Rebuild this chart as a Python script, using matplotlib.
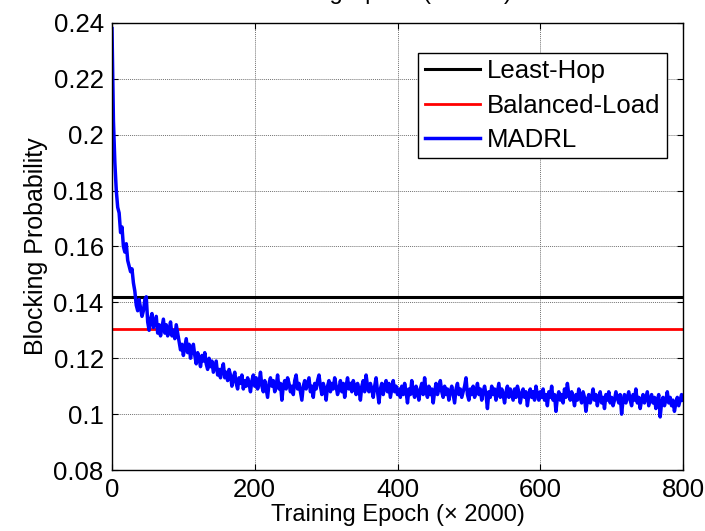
import numpy as np
import matplotlib
matplotlib.use("Agg")
import matplotlib.pyplot as plt

plt.rcParams['font.family'] = ['Liberation Sans', 'DejaVu Sans']

# training epochs (x 2000), one reading every 2 epochs
epoch = np.arange(0, 801, 2)

least_hop = 0.142
balanced_load = 0.1305

madrl = [
    # 0 - 200
    0.238, 0.205, 0.190, 0.180, 0.174, 0.172, 0.165, 0.167, 0.160, 0.158,
    0.161, 0.155, 0.153, 0.151, 0.152, 0.147, 0.144, 0.139, 0.137, 0.141,
    0.138, 0.135, 0.137, 0.141, 0.142, 0.133, 0.130, 0.134, 0.136, 0.131,
    0.133, 0.135, 0.129, 0.132, 0.128, 0.131, 0.134, 0.129, 0.132, 0.128,
    0.130, 0.133, 0.128, 0.130, 0.127, 0.132, 0.129, 0.126, 0.123, 0.125,
    0.121, 0.124, 0.127, 0.122, 0.125, 0.120, 0.123, 0.125, 0.121, 0.118,
    0.122, 0.120, 0.117, 0.121, 0.119, 0.122, 0.118, 0.116, 0.120, 0.117,
    0.119, 0.115, 0.117, 0.119, 0.114, 0.116, 0.113, 0.116, 0.118, 0.113,
    0.115, 0.112, 0.116, 0.114, 0.110, 0.113, 0.115, 0.111, 0.109, 0.113,
    0.111, 0.114, 0.109, 0.112, 0.110, 0.113, 0.111, 0.108, 0.112, 0.114,
    0.110,
    # 202 - 400
    0.113, 0.109, 0.111, 0.115, 0.110, 0.108, 0.112, 0.109, 0.106, 0.111,
    0.113, 0.110, 0.112, 0.108, 0.110, 0.114, 0.109, 0.111, 0.105, 0.110,
    0.112, 0.109, 0.113, 0.111, 0.108, 0.110, 0.107, 0.112, 0.114, 0.109,
    0.111, 0.108, 0.105, 0.110, 0.112, 0.109, 0.111, 0.113, 0.108, 0.110,
    0.106, 0.111, 0.109, 0.112, 0.114, 0.110, 0.107, 0.111, 0.109, 0.105,
    0.110, 0.112, 0.108, 0.111, 0.109, 0.113, 0.110, 0.107, 0.109, 0.112,
    0.108, 0.111, 0.106, 0.110, 0.113, 0.109, 0.111, 0.108, 0.112, 0.110,
    0.107, 0.111, 0.109, 0.105, 0.110, 0.112, 0.108, 0.114, 0.110, 0.108,
    0.111, 0.109, 0.106, 0.110, 0.113, 0.108, 0.104, 0.109, 0.111, 0.107,
    0.110, 0.112, 0.108, 0.111, 0.106, 0.109, 0.112, 0.108, 0.110, 0.107,
    # 402 - 600
    0.109, 0.106, 0.110, 0.107, 0.111, 0.108, 0.104, 0.109, 0.107, 0.112,
    0.108, 0.106, 0.110, 0.108, 0.105, 0.109, 0.111, 0.107, 0.113, 0.108,
    0.106, 0.110, 0.107, 0.109, 0.104, 0.108, 0.111, 0.107, 0.109, 0.112,
    0.108, 0.106, 0.110, 0.107, 0.109, 0.105, 0.108, 0.110, 0.107, 0.104,
    0.109, 0.111, 0.107, 0.109, 0.106, 0.108, 0.110, 0.113, 0.107, 0.105,
    0.109, 0.107, 0.110, 0.106, 0.108, 0.111, 0.107, 0.109, 0.105, 0.108,
    0.110, 0.107, 0.102, 0.108, 0.106, 0.110, 0.107, 0.109, 0.105, 0.108,
    0.111, 0.106, 0.109, 0.107, 0.104, 0.108, 0.110, 0.106, 0.109, 0.107,
    0.105, 0.109, 0.106, 0.110, 0.108, 0.104, 0.107, 0.109, 0.106, 0.108,
    0.103, 0.107, 0.109, 0.106, 0.108, 0.105, 0.110, 0.107, 0.105, 0.108,
    # 602 - 800
    0.106, 0.109, 0.105, 0.107, 0.103, 0.108, 0.106, 0.110, 0.105, 0.107,
    0.101, 0.106, 0.108, 0.105, 0.107, 0.104, 0.109, 0.106, 0.111, 0.107,
    0.105, 0.108, 0.106, 0.103, 0.107, 0.105, 0.109, 0.106, 0.104, 0.108,
    0.106, 0.101, 0.105, 0.107, 0.104, 0.106, 0.109, 0.105, 0.107, 0.103,
    0.106, 0.108, 0.104, 0.106, 0.102, 0.107, 0.105, 0.108, 0.104, 0.106,
    0.103, 0.105, 0.108, 0.106, 0.104, 0.107, 0.100, 0.105, 0.107, 0.104,
    0.106, 0.108, 0.105, 0.103, 0.107, 0.105, 0.109, 0.104, 0.106, 0.102,
    0.105, 0.107, 0.104, 0.106, 0.108, 0.103, 0.105, 0.107, 0.104, 0.106,
    0.102, 0.105, 0.107, 0.099, 0.104, 0.106, 0.103, 0.105, 0.108, 0.104,
    0.106, 0.103, 0.105, 0.101, 0.104, 0.106, 0.103, 0.105, 0.107, 0.105,
]

xticks = [0, 200, 400, 600, 800]
yticks = [0.08, 0.1, 0.12, 0.14, 0.16, 0.18, 0.2, 0.22, 0.24]
ytick_labels = ['0.08', '0.1', '0.12', '0.14', '0.16', '0.18', '0.2', '0.22', '0.24']
xlabel = 'Training Epoch (\u00d7 2000)'

fs = 18.5
fig = plt.figure(figsize=(7.05, 5.31), dpi=100)
ax = fig.add_axes([112 / 705, 1 - 470 / 531, 571 / 705, 447 / 531])

ax.axhline(least_hop, color='black', lw=2.2, label='Least-Hop')
ax.axhline(balanced_load, color='red', lw=2.0, label='Balanced-Load')
ax.plot(epoch, madrl, color='blue', lw=2.5, label='MADRL')

ax.set_xlim(0, 800)
ax.set_ylim(0.08, 0.24)
ax.set_xticks(xticks)
ax.set_yticks(yticks)
ax.set_yticklabels(ytick_labels)
ax.tick_params(direction='in', length=4, width=0.8, top=True, right=True,
               labelsize=fs, pad=6)
ax.grid(True, color='0.45', lw=0.7, linestyle=(0, (1, 1)))
for s in ax.spines.values():
    s.set_linewidth(1.0)

ax.set_xlabel(xlabel, fontsize=17, labelpad=1)
ax.set_ylabel('Blocking Probability', fontsize=18, labelpad=4)

leg = ax.legend(loc='upper right', bbox_to_anchor=(0.972, 0.933), fontsize=fs,
                fancybox=False, framealpha=1, edgecolor='black',
                handlelength=2.15, handletextpad=0.28, labelspacing=0.4,
                borderpad=0.25, borderaxespad=0)
leg.get_frame().set_linewidth(1.0)

# the x label of the panel above, cut off by the figure edge
fig.text(385 / 705, 1 + 1.5 / 531, xlabel, fontsize=17, ha='center', va='baseline')

fig.savefig('out.png', dpi=100)
